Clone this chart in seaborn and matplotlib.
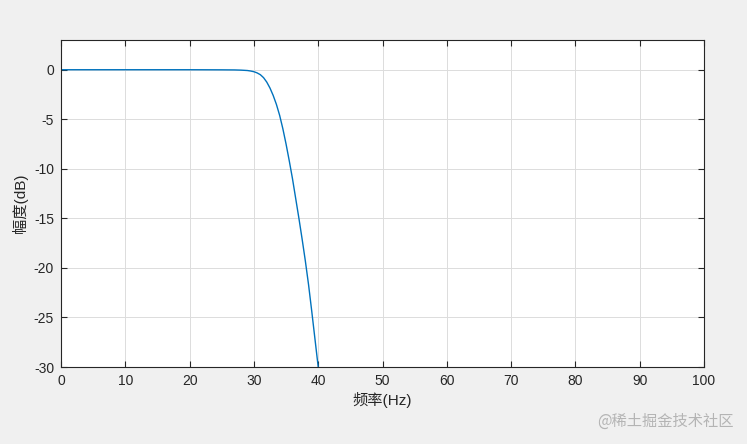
import pandas as pd
import seaborn as sns
import matplotlib.pyplot as plt

# values
FREQ_HZ = [0, 5, 10, 15, 20, 25, 27, 28, 29, 29.5, 30, 30.5, 31, 31.5, 32, 32.5,
           33, 33.5, 34, 34.5, 35, 35.5, 36, 36.5, 37, 37.5, 38, 38.5, 39, 39.5, 40]
MAG_DB = [0, 0, 0, 0, 0, -0.01, -0.02, -0.04, -0.08, -0.13, -0.2, -0.32, -0.5, -0.8,
          -1.25, -1.85, -2.6, -3.5, -4.6, -5.95, -7.5, -9.2, -11.0, -13.0, -15.0,
          -17.1, -19.3, -21.7, -24.4, -27.2, -30.0]
X_TICKS = list(range(0, 101, 10))
Y_TICKS = [0, -5, -10, -15, -20, -25, -30]


def main():
    sns.set_style("ticks")
    plt.rcParams['font.family'] = ['Liberation Sans', 'Noto Sans CJK SC', 'DejaVu Sans']
    plt.rcParams['axes.unicode_minus'] = False

    df = pd.DataFrame({"freq": FREQ_HZ, "mag": MAG_DB})

    fig = plt.figure(figsize=(7.47, 4.44), dpi=100, facecolor="#f0f0f0")
    ax = fig.add_axes([0.0817, 0.1734, 0.8607, 0.7365])
    ax.set_facecolor("white")

    sns.lineplot(data=df, x="freq", y="mag", ax=ax, color="#0072BD", linewidth=1.0)

    ax.set_xlim(0, 100)
    ax.set_ylim(-30, 3)
    ax.set_xticks(X_TICKS)
    ax.set_yticks(Y_TICKS)
    ax.grid(True, color="#dcdcdc", linewidth=0.7)
    ax.set_axisbelow(True)
    ax.tick_params(direction="in", length=4, width=0.8, colors="#262626",
                   labelsize=10, top=True, right=True, pad=5)
    for s in ax.spines.values():
        s.set_color("#262626")
        s.set_linewidth(0.8)

    ax.set_xlabel("频率(Hz)", fontsize=11, color="#262626", labelpad=3)
    ax.set_ylabel("幅度(dB)", fontsize=11, color="#262626", labelpad=4)

    fig.text(0.982, 0.052, "@稀土掘金技术社区", ha="right", va="center",
             fontsize=11, color="#b4b4b4",
             family=['Noto Sans CJK SC', 'DejaVu Sans'])

    fig.savefig("out.png", dpi=100, facecolor=fig.get_facecolor())
    plt.close(fig)


if __name__ == "__main__":
    main()
